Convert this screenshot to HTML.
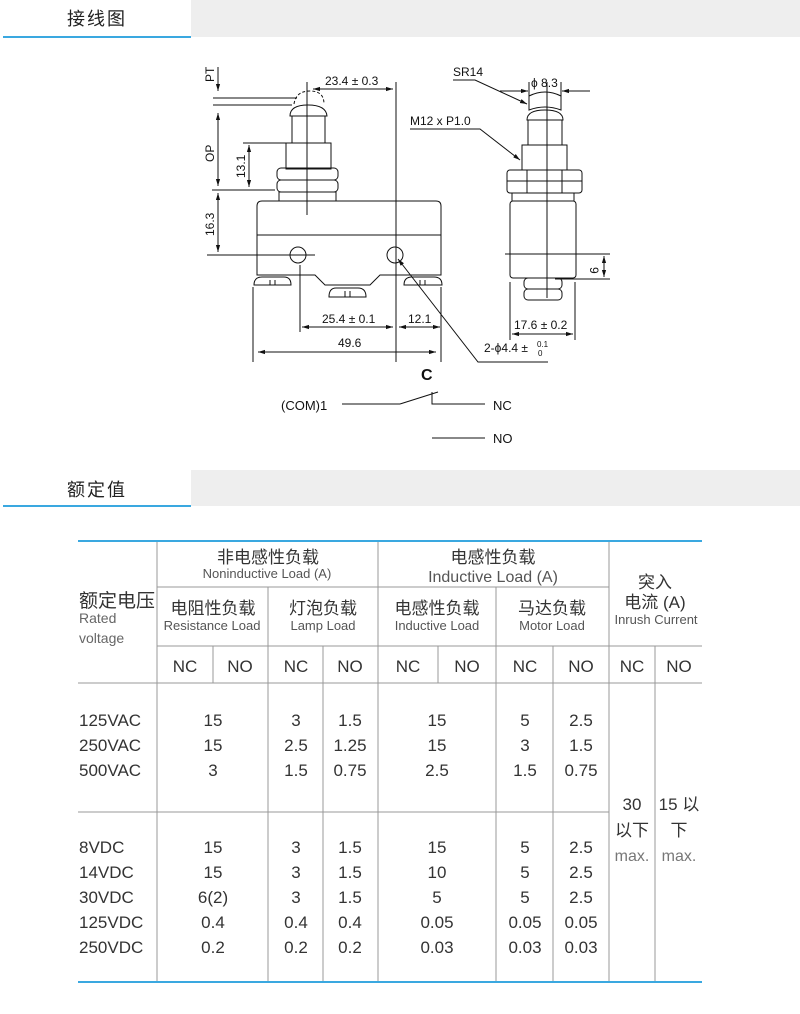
<!DOCTYPE html>
<html><head><meta charset="utf-8"><style>
html,body{margin:0;padding:0;background:#fff;width:800px;height:1014px;overflow:hidden}
svg{display:block}
.d{font-family:"Liberation Sans",sans-serif;font-size:12px;fill:#111}
.t{font-family:"Liberation Sans","Noto Sans CJK SC",sans-serif;fill:#333}
.c{font-family:"Liberation Sans","Noto Sans CJK SC",sans-serif;fill:#222}
</style></head><body>
<svg width="800" height="1014" viewBox="0 0 800 1014" xmlns="http://www.w3.org/2000/svg">
<defs>
<marker id="a" viewBox="0 0 10 10" refX="10" refY="5" markerWidth="7" markerHeight="7" orient="auto-start-reverse"><path d="M0,2L10,5L0,8z" fill="#111"/></marker>
</defs>
<rect x="191" y="0" width="609" height="37" fill="#eeeeee"/>
<rect x="3" y="36" width="188" height="2" fill="#3aa8e0"/>
<text x="97" y="25" text-anchor="middle" class="c" font-size="18" letter-spacing="2">接线图</text>
<rect x="191" y="470" width="609" height="36" fill="#eeeeee"/>
<rect x="3" y="505" width="188" height="2" fill="#3aa8e0"/>
<text x="97" y="496" text-anchor="middle" class="c" font-size="18" letter-spacing="2">额定值</text>

<g stroke="#111" stroke-width="1" fill="none">
<line x1="307" y1="82" x2="307" y2="215"/>
<line x1="396" y1="82" x2="396" y2="362"/>
<line x1="313" y1="89" x2="393" y2="89" marker-start="url(#a)" marker-end="url(#a)"/>
<line x1="218" y1="67" x2="218" y2="91" marker-end="url(#a)"/>
<line x1="213" y1="98" x2="297" y2="98"/>
<line x1="213" y1="105" x2="292" y2="105"/>
<path d="M294,104 Q296,91 310,91 Q324,91 324,104" stroke-dasharray="3,2"/>
<path d="M290,116 Q290,105 308,105 Q326,105 327,116 Z"/>
<rect x="292" y="116" width="33" height="27"/>
<rect x="286" y="143" width="45" height="26"/>
<rect x="277" y="168" width="61" height="12" rx="4"/>
<rect x="277" y="180" width="61" height="12" rx="4"/>
<line x1="307" y1="168" x2="307" y2="192"/>
<rect x="279" y="192" width="57" height="9"/>
<path d="M257,275 L257,206 Q257,201 262,201 L436,201 Q441,201 441,206 L441,275 L380,275 L370,285 L325,285 L315,275 Z"/>
<line x1="257" y1="235" x2="441" y2="235"/>
<circle cx="298" cy="255" r="8"/>
<circle cx="395" cy="255" r="8"/>
<line x1="207" y1="255" x2="315" y2="255"/>
<path d="M254,285 Q254,277 262,277 L284,277 Q291,277 291,285 Z"/>
<line x1="270" y1="280" x2="270" y2="285"/><line x1="275" y1="280" x2="275" y2="285"/>
<path d="M329,297 Q329,288 336,288 L358,288 Q366,288 366,297 Z"/>
<line x1="345" y1="291" x2="345" y2="297"/><line x1="350" y1="291" x2="350" y2="297"/>
<path d="M404,285 Q404,277 412,277 L434,277 Q442,277 442,285 Z"/>
<line x1="420" y1="280" x2="420" y2="285"/><line x1="425" y1="280" x2="425" y2="285"/>
<line x1="218" y1="113" x2="218" y2="186" marker-start="url(#a)" marker-end="url(#a)"/>
<line x1="212" y1="190" x2="275" y2="190"/>
<line x1="218" y1="193" x2="218" y2="252" marker-start="url(#a)" marker-end="url(#a)"/>
<line x1="243" y1="143" x2="293" y2="143"/>
<line x1="249" y1="145" x2="249" y2="187" marker-start="url(#a)" marker-end="url(#a)"/>
<line x1="253" y1="287" x2="253" y2="362"/>
<line x1="300" y1="265" x2="300" y2="332"/>
<line x1="441" y1="287" x2="441" y2="362"/>
<line x1="302" y1="327" x2="393" y2="327" marker-start="url(#a)" marker-end="url(#a)"/>
<line x1="399" y1="327" x2="440" y2="327" marker-start="url(#a)" marker-end="url(#a)"/>
<line x1="258" y1="352" x2="436" y2="352" marker-start="url(#a)" marker-end="url(#a)"/>
<polyline points="548,362 478,362 398,259" marker-end="url(#a)"/>
<line x1="547" y1="82" x2="547" y2="298"/>
<path d="M529,96 Q545,88 561,96 L561,110 Q545,104 529,110 Z"/>
<line x1="529" y1="82" x2="529" y2="96"/><line x1="561" y1="82" x2="561" y2="96"/>
<line x1="500" y1="91" x2="528" y2="91" marker-end="url(#a)"/>
<line x1="590" y1="91" x2="562" y2="91" marker-end="url(#a)"/>
<polyline points="453,80 475,80 527,104" marker-end="url(#a)"/>
<polyline points="410,129 480,129 520,160" marker-end="url(#a)"/>
<path d="M527,120 Q527,110 545,110 Q563,110 563,120 Z"/>
<rect x="528" y="120" width="34" height="25"/>
<rect x="522" y="145" width="45" height="25"/>
<rect x="507" y="170" width="75" height="23" rx="3"/>
<line x1="507" y1="181" x2="582" y2="181"/>
<line x1="527" y1="170" x2="527" y2="193"/><line x1="562" y1="170" x2="562" y2="193"/>
<rect x="510" y="201" width="66" height="77" rx="3"/>
<line x1="512" y1="193" x2="512" y2="201"/><line x1="574" y1="193" x2="574" y2="201"/>
<rect x="524" y="278" width="38" height="11" rx="4"/>
<rect x="524" y="289" width="38" height="11" rx="4"/>
<line x1="505" y1="254" x2="610" y2="254"/>
<line x1="555" y1="279" x2="610" y2="279"/>
<line x1="604" y1="256" x2="604" y2="277" marker-start="url(#a)" marker-end="url(#a)"/>
<line x1="510" y1="282" x2="510" y2="340"/>
<line x1="575" y1="282" x2="575" y2="340"/>
<line x1="512" y1="334" x2="573" y2="334" marker-start="url(#a)" marker-end="url(#a)"/>
<line x1="342" y1="404" x2="400" y2="404"/>
<line x1="400" y1="404" x2="438" y2="392"/>
<polyline points="432,392 432,404 485,404"/>
<line x1="432" y1="438" x2="485" y2="438"/>
</g>
<g class="d">
<text x="214" y="82" transform="rotate(-90 214 82)">PT</text>
<text x="214" y="162" transform="rotate(-90 214 162)">OP</text>
<text x="245" y="178" transform="rotate(-90 245 178)">13.1</text>
<text x="214" y="236" transform="rotate(-90 214 236)">16.3</text>
<text x="325" y="85">23.4 ± 0.3</text>
<text x="322" y="323">25.4 ± 0.1</text>
<text x="408" y="323">12.1</text>
<text x="338" y="347">49.6</text>
<text x="484" y="352">2-ϕ4.4 ±</text>
<text x="537" y="347" font-size="8">0.1</text>
<text x="538" y="356" font-size="8">0</text>
<text x="453" y="76">SR14</text>
<text x="531" y="87">ϕ 8.3</text>
<text x="410" y="125">M12 x P1.0</text>
<text x="590" y="267" transform="rotate(90 590 267)">9</text>
<text x="514" y="329">17.6 ± 0.2</text>
<text x="421" y="380" font-size="16" font-weight="bold">C</text>
<text x="281" y="410" font-size="13">(COM)1</text>
<text x="493" y="410" font-size="13">NC</text>
<text x="493" y="443" font-size="13">NO</text>
</g>

<g stroke="#999" stroke-width="1">
<line x1="78" y1="683" x2="702" y2="683"/>
<line x1="157" y1="587" x2="609" y2="587"/>
<line x1="157" y1="646" x2="702" y2="646"/>
<line x1="78" y1="812" x2="609" y2="812"/>
<line x1="157" y1="541" x2="157" y2="982"/>
<line x1="268" y1="587" x2="268" y2="982"/>
<line x1="378" y1="541" x2="378" y2="982"/>
<line x1="496" y1="587" x2="496" y2="982"/>
<line x1="609" y1="541" x2="609" y2="982"/>
<line x1="323" y1="646" x2="323" y2="982"/>
<line x1="553" y1="646" x2="553" y2="982"/>
<line x1="655" y1="646" x2="655" y2="982"/>
<line x1="213" y1="646" x2="213" y2="683"/>
<line x1="438" y1="646" x2="438" y2="683"/>
</g>
<rect x="78" y="540" width="624" height="2" fill="#3aa8e0"/>
<rect x="78" y="981" width="624" height="2" fill="#3aa8e0"/>
<g class="t" text-anchor="middle">
<text x="268" y="563" font-size="17">非电感性负载</text>
<text x="267" y="578" font-size="13" fill="#555">Noninductive Load (A)</text>
<text x="493" y="563" font-size="17">电感性负载</text>
<text x="493" y="582" font-size="16" fill="#555">Inductive Load (A)</text>
<text x="213" y="614" font-size="17">电阻性负载</text>
<text x="212" y="630" font-size="13" fill="#555">Resistance Load</text>
<text x="323" y="614" font-size="17">灯泡负载</text>
<text x="323" y="630" font-size="13" fill="#555">Lamp Load</text>
<text x="437" y="614" font-size="17">电感性负载</text>
<text x="437" y="630" font-size="13" fill="#555">Inductive Load</text>
<text x="552" y="614" font-size="17">马达负载</text>
<text x="552" y="630" font-size="13" fill="#555">Motor Load</text>
<text x="655" y="588" font-size="17">突入</text>
<text x="655" y="608" font-size="17">电流 (A)</text>
<text x="656" y="624" font-size="13" fill="#555">Inrush Current</text>
<g font-size="17">
<text x="185" y="672">NC</text><text x="240" y="672">NO</text>
<text x="296" y="672">NC</text><text x="350" y="672">NO</text>
<text x="408" y="672">NC</text><text x="467" y="672">NO</text>
<text x="525" y="672">NC</text><text x="581" y="672">NO</text>
<text x="632" y="672">NC</text><text x="679" y="672">NO</text>
</g>
<g font-size="17">
<text x="213" y="726">15</text><text x="296" y="726">3</text><text x="350" y="726">1.5</text><text x="437" y="726">15</text><text x="525" y="726">5</text><text x="581" y="726">2.5</text>
<text x="213" y="751">15</text><text x="296" y="751">2.5</text><text x="350" y="751">1.25</text><text x="437" y="751">15</text><text x="525" y="751">3</text><text x="581" y="751">1.5</text>
<text x="213" y="776">3</text><text x="296" y="776">1.5</text><text x="350" y="776">0.75</text><text x="437" y="776">2.5</text><text x="525" y="776">1.5</text><text x="581" y="776">0.75</text>
<text x="213" y="853">15</text><text x="296" y="853">3</text><text x="350" y="853">1.5</text><text x="437" y="853">15</text><text x="525" y="853">5</text><text x="581" y="853">2.5</text>
<text x="213" y="878">15</text><text x="296" y="878">3</text><text x="350" y="878">1.5</text><text x="437" y="878">10</text><text x="525" y="878">5</text><text x="581" y="878">2.5</text>
<text x="213" y="903">6(2)</text><text x="296" y="903">3</text><text x="350" y="903">1.5</text><text x="437" y="903">5</text><text x="525" y="903">5</text><text x="581" y="903">2.5</text>
<text x="213" y="928">0.4</text><text x="296" y="928">0.4</text><text x="350" y="928">0.4</text><text x="437" y="928">0.05</text><text x="525" y="928">0.05</text><text x="581" y="928">0.05</text>
<text x="213" y="953">0.2</text><text x="296" y="953">0.2</text><text x="350" y="953">0.2</text><text x="437" y="953">0.03</text><text x="525" y="953">0.03</text><text x="581" y="953">0.03</text>
<text x="632" y="810">30</text><text x="632" y="836">以下</text>
<text x="679" y="810">15 以</text><text x="679" y="836">下</text>
<text x="632" y="861" font-size="16" fill="#777">max.</text><text x="679" y="861" font-size="16" fill="#777">max.</text>
</g>
</g>
<g class="t" font-size="17">
<text x="79" y="607" font-size="19">额定电压</text>
<text x="79" y="623" font-size="14" fill="#666">Rated</text>
<text x="79" y="643" font-size="14" fill="#666">voltage</text>
<text x="79" y="726">125VAC</text><text x="79" y="751">250VAC</text><text x="79" y="776">500VAC</text>
<text x="79" y="853">8VDC</text><text x="79" y="878">14VDC</text><text x="79" y="903">30VDC</text><text x="79" y="928">125VDC</text><text x="79" y="953">250VDC</text>
</g>
</svg>
</body></html>
